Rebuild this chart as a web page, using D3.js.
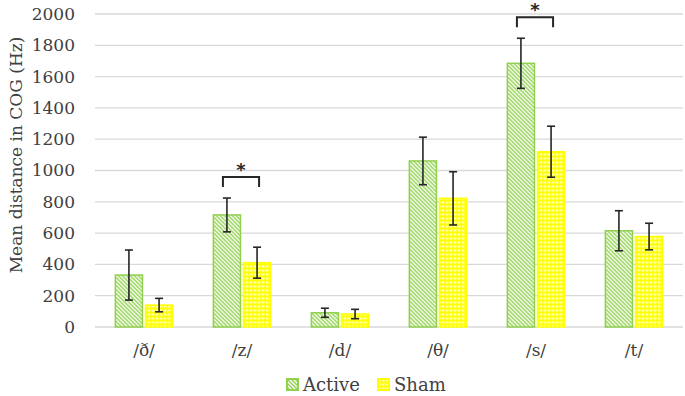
<!DOCTYPE html>
<html lang="en">

<head>
    <meta charset="UTF-8">
    <title>cog-bars</title>
    <script src="https://cdn.jsdelivr.net/npm/d3@7/dist/d3.min.js"></script>
    <style>
        body { margin: 0; background: #fff; }
        svg text { fill: #404040; font-family: 'DejaVu Serif', serif; }
    </style>
</head>

<body>
    <svg width="685" height="396" id="mainsvg"></svg>
    <script>
        // chart values
        const categories = ['/ð/', '/z/', '/d/', '/θ/', '/s/', '/t/'];
        const seriesNames = ['Active', 'Sham'];
        const activeMeans = [332, 716, 91, 1061, 1685, 615];
        const activeErr = [160, 108, 29, 152, 160, 128];
        const shamMeans = [140, 411, 83, 822, 1120, 578];
        const shamErr = [43, 99, 30, 170, 163, 85];
        const significant = ['/z/', '/s/'];
        const yTicks = [0, 200, 400, 600, 800, 1000, 1200, 1400, 1600, 1800, 2000];

        const svg = d3.select('#mainsvg');
        const green = '#92d050';
        const yellow = '#ffff00';
        const ink = '#262626';

        // fill patterns
        const defs = svg.append('defs');
        const pa = defs.append('pattern').attr('id', 'pActive')
            .attr('patternUnits', 'userSpaceOnUse').attr('width', 4).attr('height', 4);
        pa.append('rect').attr('width', 4).attr('height', 4).attr('fill', '#fff');
        pa.append('path').attr('d', 'M-1,-1 L5,5 M-1,3 L1,5 M3,-1 L5,1')
            .attr('stroke', green).attr('stroke-width', 1.4);
        const ps = defs.append('pattern').attr('id', 'pSham')
            .attr('patternUnits', 'userSpaceOnUse').attr('width', 4).attr('height', 4);
        ps.append('rect').attr('width', 4).attr('height', 4).attr('fill', yellow);
        ps.append('rect').attr('x', 1.5).attr('y', 1.5).attr('width', 2).attr('height', 2).attr('fill', '#fff');

        const fills = { Active: 'url(#pActive)', Sham: 'url(#pSham)' };
        const strokes = { Active: green, Sham: yellow };

        const x0 = d3.scaleBand().domain(categories).range([95, 683])
            .paddingInner(0.4).paddingOuter(0.2);
        const x1 = d3.scaleBand().domain(seriesNames).range([0, x0.bandwidth()]).paddingInner(0.05);
        const y = d3.scaleLinear().domain([0, 2000]).range([327, 14]);

        // gridlines
        svg.append('g').selectAll('line').data(yTicks).join('line')
            .attr('x1', 95).attr('x2', 683)
            .attr('y1', d => y(d)).attr('y2', d => y(d))
            .attr('stroke', '#d9d9d9').attr('stroke-width', 1.3);

        // y axis labels
        const yAxis = d3.axisLeft(y).tickValues(yTicks).tickFormat(d3.format('d')).tickSize(0).tickPadding(0);
        const ya = svg.append('g').attr('transform', 'translate(75,0)').call(yAxis);
        ya.select('.domain').remove();
        ya.attr('font-family', null);
        ya.selectAll('text').attr('font-size', 17);

        // x axis labels
        const xAxis = d3.axisBottom(x0).tickSize(0).tickPadding(0);
        const xa = svg.append('g').attr('transform', 'translate(0,344)').call(xAxis);
        xa.select('.domain').remove();
        xa.attr('font-family', null);
        xa.selectAll('text').attr('font-size', 17);

        svg.append('text')
            .attr('transform', 'translate(22,155) rotate(-90)')
            .attr('text-anchor', 'middle').attr('font-size', 17)
            .text('Mean distance in COG (Hz)');

        const rows = categories.map((c, i) => ({
            cat: c,
            vals: [
                { s: 'Active', v: activeMeans[i], e: activeErr[i] },
                { s: 'Sham', v: shamMeans[i], e: shamErr[i] }
            ]
        }));

        const groups = svg.append('g').selectAll('g').data(rows).join('g')
            .attr('transform', d => `translate(${x0(d.cat)},0)`);

        groups.selectAll('rect').data(d => d.vals).join('rect')
            .attr('x', d => x1(d.s) + 0.75)
            .attr('width', x1.bandwidth() - 1.5)
            .attr('y', d => y(d.v))
            .attr('height', d => y(0) - y(d.v))
            .attr('fill', d => fills[d.s])
            .attr('stroke', d => strokes[d.s])
            .attr('stroke-width', 1.5);

        // error bars
        const eb = groups.selectAll('g.err').data(d => d.vals).join('g').attr('class', 'err')
            .attr('transform', d => `translate(${x1(d.s) + x1.bandwidth() / 2},0)`);
        eb.append('line').attr('y1', d => y(d.v + d.e)).attr('y2', d => y(d.v - d.e))
            .attr('stroke', ink).attr('stroke-width', 1.6);
        eb.append('line').attr('x1', -4).attr('x2', 4).attr('y1', d => y(d.v + d.e)).attr('y2', d => y(d.v + d.e))
            .attr('stroke', ink).attr('stroke-width', 1.6);
        eb.append('line').attr('x1', -4).attr('x2', 4).attr('y1', d => y(d.v - d.e)).attr('y2', d => y(d.v - d.e))
            .attr('stroke', ink).attr('stroke-width', 1.6);

        // significance brackets
        const sig = groups.filter(d => significant.includes(d.cat));
        sig.each(function (d) {
            const g = d3.select(this);
            const top = d3.min(d.vals, v => y(v.v + v.e)) - 21;
            const xa = x1('Active') + x1.bandwidth() / 2 - 4;
            const xb = x1('Sham') + x1.bandwidth() / 2 + 2;
            g.append('path')
                .attr('d', `M${xa},${top + 10} L${xa},${top} L${xb},${top} L${xb},${top + 10}`)
                .attr('fill', 'none').attr('stroke', ink).attr('stroke-width', 2);
            g.append('text').attr('x', (xa + xb) / 2).attr('y', top - 1)
                .attr('text-anchor', 'middle').attr('font-size', 18).attr('font-weight', 'bold')
                .style('font-family', '"DejaVu Sans", sans-serif')
                .style('fill', ink).text('*');
        });

        // legend
        const legend = svg.append('g').attr('transform', 'translate(286,378)');
        const items = [{ s: 'Active', x: 0 }, { s: 'Sham', x: 91 }];
        const li = legend.selectAll('g').data(items).join('g').attr('transform', d => `translate(${d.x},0)`);
        li.append('rect').attr('x', 1).attr('y', 1).attr('width', 11).attr('height', 11)
            .attr('fill', d => fills[d.s]).attr('stroke', d => strokes[d.s]).attr('stroke-width', 2);
        li.append('text').attr('x', 17).attr('y', 13).attr('font-size', 18).text(d => d.s);
    </script>
</body>

</html>
